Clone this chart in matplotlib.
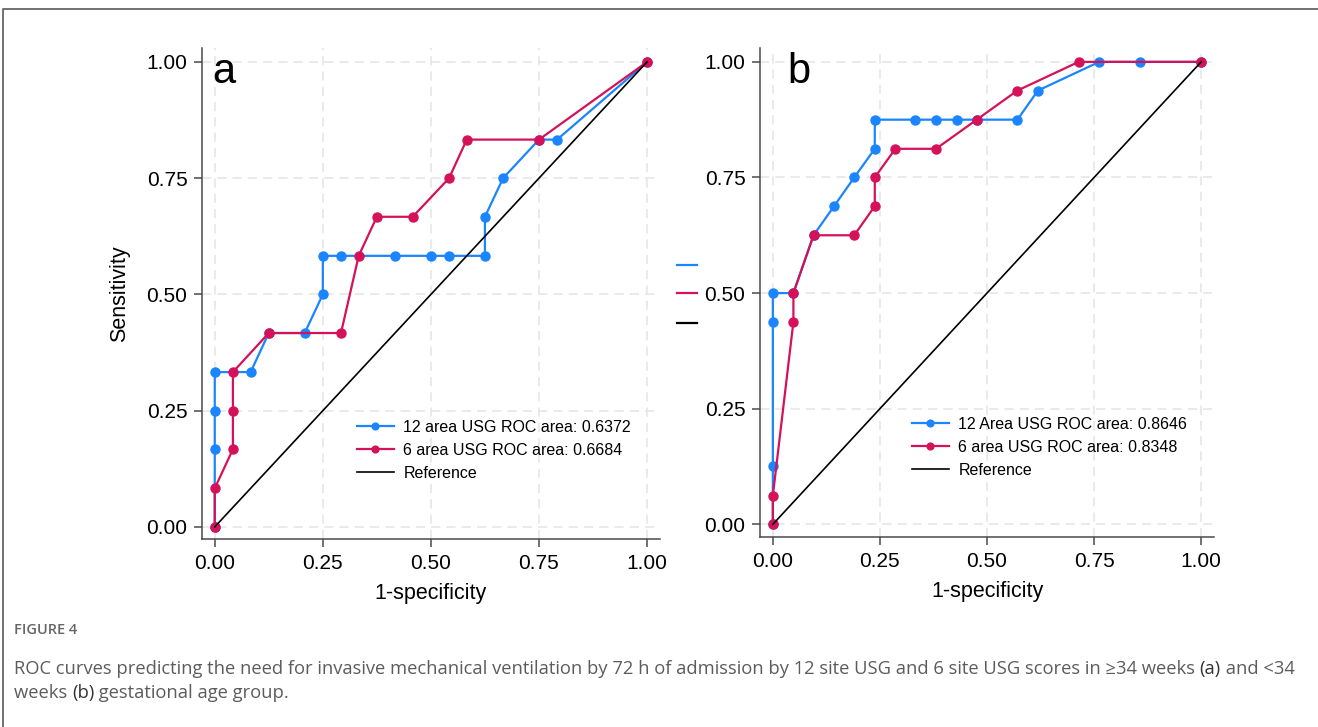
import matplotlib
matplotlib.use("Agg")
import matplotlib.pyplot as plt
from matplotlib.lines import Line2D

# panel a (>=34 weeks)
a_fpr_12 = [0, 0, 0, 0, 0.083, 0.125, 0.208, 0.25, 0.25, 0.292, 0.417, 0.5, 0.542,
            0.625, 0.625, 0.667, 0.75, 0.792, 1]
a_tpr_12 = [0, 0.167, 0.25, 0.333, 0.333, 0.417, 0.417, 0.5, 0.583, 0.583, 0.583, 0.583,
            0.583, 0.583, 0.667, 0.75, 0.833, 0.833, 1]
a_fpr_6 = [0, 0, 0.042, 0.042, 0.042, 0.125, 0.292, 0.333, 0.375, 0.458, 0.542, 0.583, 0.75, 1]
a_tpr_6 = [0, 0.083, 0.167, 0.25, 0.333, 0.417, 0.417, 0.583, 0.667, 0.667, 0.75, 0.833, 0.833, 1]

# panel b (<34 weeks)
b_fpr_12 = [0, 0, 0, 0, 0.048, 0.095, 0.143, 0.190, 0.238, 0.238, 0.333, 0.381, 0.429,
            0.476, 0.571, 0.619, 0.762, 0.857, 1]
b_tpr_12 = [0, 0.125, 0.438, 0.5, 0.5, 0.625, 0.688, 0.75, 0.812, 0.875, 0.875, 0.875,
            0.875, 0.875, 0.875, 0.938, 1, 1, 1]
b_fpr_6 = [0, 0, 0.048, 0.048, 0.095, 0.190, 0.238, 0.238, 0.286, 0.381, 0.476, 0.571, 0.714, 1]
b_tpr_6 = [0, 0.062, 0.438, 0.5, 0.625, 0.625, 0.688, 0.75, 0.812, 0.812, 0.875, 0.938, 1, 1]

labels_a = ["12 area USG ROC area: 0.6372", "6 area USG ROC area: 0.6684", "Reference"]
labels_b = ["12 Area USG ROC area: 0.8646", "6 area USG ROC area: 0.8348", "Reference"]
ticks = [0, 0.25, 0.5, 0.75, 1.0]

BLUE = "#1A85FF"
RED = "#D41159"
AX = "#4a4a4a"

plt.rcParams["font.family"] = ["Liberation Sans", "DejaVu Sans"]

fig = plt.figure(figsize=(13.18, 7.27), dpi=100)
W, H = 1318, 727


def pix_axes(l, t, r, b):
    return fig.add_axes([l / W, 1 - b / H, (r - l) / W, (b - t) / H])


def roc_panel(ax, fpr12, tpr12, fpr6, tpr6, labels, letter, xlim, ylim, leg_xy, letter_x):
    ax.plot(fpr12, tpr12, color=BLUE, lw=1.6, marker="o", ms=6.5, label=labels[0], zorder=3)
    ax.plot(fpr6, tpr6, color=RED, lw=1.6, marker="o", ms=6.5, label=labels[1], zorder=4)
    ax.plot([0, 1], [0, 1], color="black", lw=1.2, label=labels[2], zorder=5)
    ax.set_xlim(*xlim)
    ax.set_ylim(*ylim)
    ax.set_xticks(ticks)
    ax.set_yticks(ticks)
    ax.set_xticklabels(["%.2f" % t for t in ticks])
    ax.set_yticklabels(["%.2f" % t for t in ticks])
    ax.grid(True, color="#e4e4e4", lw=1.1, ls=(0, (6, 4)))
    ax.set_axisbelow(True)
    for s in ["top", "right"]:
        ax.spines[s].set_visible(False)
    for s in ["left", "bottom"]:
        ax.spines[s].set_color(AX)
        ax.spines[s].set_linewidth(1.1)
    ax.tick_params(length=5.5, width=1.1, color=AX, labelsize=15, pad=5)
    ax.set_xlabel("1-specificity", fontsize=15.5)
    ax.xaxis.set_label_coords(0.5, -0.089)
    ax.text(letter_x, 0.955, letter, fontsize=30, va="baseline", ha="left")
    ax.legend(loc="upper left", bbox_to_anchor=leg_xy, bbox_transform=ax.transData,
              frameon=False, fontsize=11.5, handlelength=2.3, handletextpad=0.6,
              labelspacing=0.5, borderpad=0, borderaxespad=0, markerscale=0.75)


ax1 = pix_axes(202, 48, 660, 539)
roc_panel(ax1, a_fpr_12, a_tpr_12, a_fpr_6, a_tpr_6, labels_a, "a",
          (-0.0295, 1.03), (-0.026, 1.03), (0.329, 0.23), -0.005)
ax1.set_ylabel("Sensitivity", fontsize=15.5)
ax1.yaxis.set_label_coords(-0.157, 0.5)

ax2 = pix_axes(760, 48, 1214, 537)
roc_panel(ax2, b_fpr_12, b_tpr_12, b_fpr_6, b_tpr_6, labels_b, "b",
          (-0.030, 1.03), (-0.0275, 1.03), (0.325, 0.232), 0.035)

# cropped legend remnants between the panels
frag_y = [265, 293, 323]
frag_c = [BLUE, RED, "black"]
for fy, fc in zip(frag_y, frag_c):
    fig.add_artist(Line2D([677 / W, 697 / W], [1 - fy / H, 1 - fy / H], color=fc, lw=1.6))

# page border
fig.add_artist(Line2D([3 / W, 3 / W, 1], [0, 1 - 9 / H, 1 - 9 / H], color="#666666", lw=1.3))

# caption
cap = fig.add_axes([0, 0, 1, 1])
cap.axis("off")
cap.set_xlim(0, W)
cap.set_ylim(H, 0)
cfont = ["Open Sans", "DejaVu Sans"]
cap.text(14, 630, "FIGURE 4", fontsize=10.5, color="#666666", fontweight="semibold",
         family=cfont, va="center")


def caption_line(y, parts):
    prev = None
    for txt, bold in parts:
        kw = dict(fontsize=13.25, family=cfont, va="baseline",
                  color="#333333" if bold else "#5c5c5c",
                  fontweight="medium" if bold else "normal")
        if prev is None:
            prev = cap.text(14, y, txt, **kw)
        else:
            prev = cap.annotate(txt, xy=(1, 0), xycoords=prev, xytext=(0, 0),
                                textcoords="offset points", **kw)
            prev.set_va("bottom")


caption_line(674, [("ROC curves predicting the need for invasive mechanical ventilation by 72 h of "
                    "admission by 12 site USG and 6 site USG scores in \u226534 weeks ", False),
                   ("(a)", True), (" and <34", False)])
caption_line(698, [("weeks ", False), ("(b)", True), (" gestational age group.", False)])

fig.savefig("out.png", dpi=100)
